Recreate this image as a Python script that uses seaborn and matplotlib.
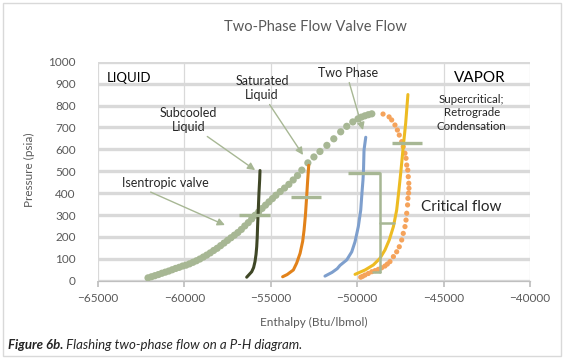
import numpy as np
import pandas as pd
import matplotlib
matplotlib.use("Agg")
import matplotlib.pyplot as plt
import seaborn as sns
from matplotlib.patches import Rectangle

# saturation dome - bubble side (green dots)
bubble_h = [-62100, -61900, -61700, -61500, -61300, -61100, -60900, -60700, -60500, -60300,
            -60100, -59900, -59700, -59500, -59300, -59100, -58900, -58700, -58500, -58300,
            -58100, -57900, -57700, -57500, -57300, -57100, -56900, -56700, -56500, -56300,
            -56100, -55900, -55700, -55500, -55300, -55100, -54900, -54700, -54450, -54200,
            -53950, -53700, -53450, -53200, -52850, -52500, -52150, -51750, -51350, -50950,
            -50600, -50250, -49950, -49750, -49550, -49350, -49150]
bubble_p = [13, 18, 23, 28, 34, 39, 44, 50, 56, 61,
            67, 71, 77, 84, 91, 99, 108, 117, 127, 138,
            148, 160, 172, 184, 196, 208, 220, 234, 250, 265,
            282, 299, 314, 330, 345, 360, 375, 390, 407, 423,
            440, 460, 480, 505, 538, 565, 590, 618, 648, 680,
            705, 725, 739, 747, 753, 758, 762]

# saturation dome - dew side (light orange dots)
dew_h = [-48500, -48150, -48000, -47810, -47670, -47560, -47420, -47330, -47230, -47170,
         -47130, -47070, -47040, -47010, -47000, -47020, -47060, -47080, -47130, -47170,
         -47230, -47330, -47420, -47560, -47710, -47900, -48100, -48250, -48390, -48580,
         -48770, -48960, -49150, -49350, -49540, -49680, -49790]
dew_p = [761, 748, 734, 711, 688, 665, 635, 612, 582, 559,
         528, 505, 475, 445, 422, 400, 376, 346, 308, 277,
         247, 216, 186, 155, 132, 110, 87, 76, 67, 59,
         52, 46, 41, 33, 26, 20, 16]

# valve flow paths
v1_h = [-56390, -56250, -56100, -55990, -55910, -55850, -55810, -55780, -55760, -55720, -55680, -55640, -55620]
v1_p = [16, 28, 41, 60, 87, 120, 155, 200, 247, 323, 400, 460, 503]
v2_h = [-54310, -54050, -53690, -53500, -53300, -53150, -53070, -52990, -52920, -52860, -52800]
v2_p = [18, 28, 49, 80, 125, 180, 231, 300, 384, 460, 527]
v3_h = [-51860, -51450, -51150, -50990, -50600, -50310, -50120, -49930, -49790, -49720, -49660, -49630, -49600, -49500]
v3_p = [21, 38, 55, 70, 95, 132, 178, 247, 323, 400, 460, 505, 597, 655]
v4_h = [-50120, -49800, -49540, -49060, -48680, -48390, -48140, -47900, -47710, -47580, -47460, -47330, -47190, -47060]
v4_p = [29, 40, 49, 72, 102, 140, 186, 247, 323, 414, 505, 612, 719, 850]

# critical flow markers (left H, right H, P)
crit_left = [-56830, -53840, -50530, -48000]
crit_right = [-55035, -52110, -48700, -46260]
crit_p = [300, 384, 492, 627]

xticks = [-65000, -60000, -55000, -50000, -45000, -40000]
yticks = list(range(0, 1001, 100))

GREEN = "#a7b794"
GRAY = "#595959"

sns.set_theme(style="white")
plt.rcParams['font.family'] = ['Lato', 'DejaVu Sans']

fig = plt.figure(figsize=(5.65, 3.59), dpi=100)
ax = fig.add_axes([0.1733, 0.2181, 0.7646, 0.61])

ax.set_xlim(-65000, -40000)
ax.set_ylim(0, 1000)
ax.set_xticks(xticks)
ax.set_yticks(yticks)
ax.yaxis.grid(True, color="#d9d9d9", lw=2.4)
ax.xaxis.grid(True, color="#d9d9d9", lw=0.9)
ax.set_axisbelow(True)
for s in ["left", "right", "top"]:
    ax.spines[s].set_visible(False)
ax.spines["bottom"].set_color("#bfbfbf")
ax.spines["bottom"].set_linewidth(0.9)
ax.tick_params(axis="x", bottom=True, length=4, color="#bfbfbf", labelsize=8.5, labelcolor=GRAY, pad=5)
ax.tick_params(axis="y", left=False, labelsize=8.5, labelcolor=GRAY, pad=10)
ax.set_xlabel("")
ax.set_ylabel("")

# dome
sns.scatterplot(x=bubble_h, y=bubble_p, ax=ax, color=GREEN, s=27, edgecolor="none", zorder=3)
sns.scatterplot(x=dew_h, y=dew_p, ax=ax, color="#f5a35b", s=14, edgecolor="none", zorder=3)

# valve paths
for hh, pp, col in [(v1_h, v1_p, "#3f4726"), (v2_h, v2_p, "#e2821a"),
                    (v3_h, v3_p, "#7e9fcd"), (v4_h, v4_p, "#edbb22")]:
    sns.lineplot(x=hh, y=pp, ax=ax, color=col, lw=2.2, sort=False, estimator=None, zorder=4)

# critical flow bars
for l, r, p in zip(crit_left, crit_right, crit_p):
    ax.plot([l, r], [p, p], color=GREEN, lw=2.4, solid_capstyle="butt", zorder=5)
ax.plot([-48700, -48700], [492, 40], color=GREEN, lw=1.8, zorder=5)
ax.plot([-48700, -47850], [262, 262], color=GREEN, lw=1.8, zorder=5)
ax.plot([-49060, -48700], [40, 40], color=GREEN, lw=1.8, zorder=5)

# labels
ax.text(-64470, 925, "LIQUID", fontsize=9.5, color="black", ha="left", va="center")
ax.text(-42890, 924, "VAPOR", fontsize=11, color="black", ha="center", va="center")
ax.text(-43370, 766, "Supercritical;\nRetrograde\nCondensation", fontsize=8.3, ha="center",
        va="center", linespacing=1.3)
ax.text(-43950, 338, "Critical flow", fontsize=11, ha="center", va="center")

arrow = dict(arrowstyle="-|>", color=GREEN, lw=1, mutation_scale=11, shrinkA=0, shrinkB=0)
ax.annotate("Subcooled\nLiquid", xy=(-55900, 505), xytext=(-59770, 734), fontsize=9,
            ha="center", va="center", arrowprops=dict(arrow, relpos=(0.75, 0)), linespacing=1.25)
ax.annotate("Saturated\nLiquid", xy=(-53130, 574), xytext=(-55500, 880), fontsize=9,
            ha="center", va="center", arrowprops=dict(arrow, relpos=(0.6, 0)), linespacing=1.25)
ax.annotate("Two Phase", xy=(-49660, 688), xytext=(-50510, 947), fontsize=9,
            ha="center", va="center", arrowprops=dict(arrow, relpos=(0.5, 0)))
ax.annotate("Isentropic valve", xy=(-57650, 254), xytext=(-61120, 447), fontsize=9,
            ha="center", va="center", arrowprops=dict(arrow, relpos=(0.25, 0)))

fig.text(0.559, 0.925, "Two-Phase Flow Valve Flow", fontsize=10.5, color=GRAY, ha="center", va="center")
fig.text(0.053, 0.526, "Pressure (psia)", fontsize=8.5, color=GRAY, rotation=90, ha="center", va="center")
fig.text(0.556, 0.103, "Enthalpy (Btu/lbmol)", fontsize=8.5, color=GRAY, ha="center", va="center")

t1 = fig.text(0.014, 0.039, "Figure 6b.", fontsize=9.5, fontweight="bold", style="italic",
              ha="left", va="center")
ax.annotate(" Flashing two-phase flow on a P-H diagram.", xy=(1, 0.5), xycoords=t1,
            fontsize=9.5, style="italic", ha="left", va="center")

fig.patches.append(Rectangle((3 / 565, 3 / 359), 558 / 565, 353 / 359, transform=fig.transFigure,
                             fill=False, edgecolor="#d9d9d9", lw=1))

plt.savefig("out.png", dpi=100)
